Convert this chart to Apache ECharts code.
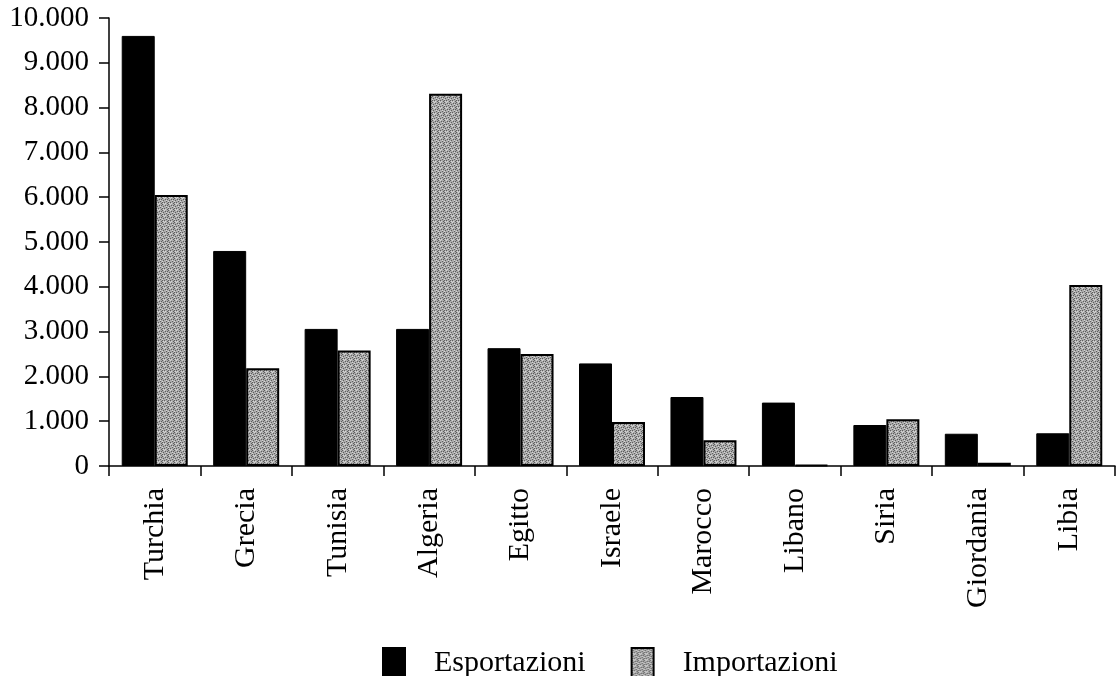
<!DOCTYPE html>
<html>
<head>
<meta charset="utf-8">
<script src="https://cdn.jsdelivr.net/npm/echarts@6/dist/echarts.min.js"></script>
<style>html,body{margin:0;padding:0;background:#fff;}#chart{width:1116px;height:676px;}</style>
</head>
<body>
<div id="chart"></div>
<script>
const categories = ['Turchia','Grecia','Tunisia','Algeria','Egitto','Israele','Marocco','Libano','Siria','Giordania','Libia'];
const esportazioni = [9600, 4800, 3060, 3060, 2630, 2290, 1540, 1415, 915, 720, 730];
const importazioni = [6050, 2180, 2580, 8310, 2500, 980, 575, 20, 1045, 75, 4040];
const seriesNames = ['Esportazioni', 'Importazioni'];

// deterministic stipple texture for the grey bars
const pat = document.createElement('canvas');
pat.width = 6; pat.height = 6;
const pctx = pat.getContext('2d');
pctx.fillStyle = '#ababab';
pctx.fillRect(0, 0, 6, 6);
pctx.fillStyle = '#5e5e5e';
[[0,0],[3,1],[1,2],[4,3],[2,4],[5,5],[0,4],[5,1]].forEach(p => pctx.fillRect(p[0], p[1], 1, 1));
pctx.fillStyle = '#d6d6d6';
[[2,0],[4,2],[0,3],[3,5],[1,5]].forEach(p => pctx.fillRect(p[0], p[1], 1, 1));

const fmt = v => String(v).replace(/\B(?=(\d{3})+(?!\d))/g, '.');
const font = '"Liberation Serif", "DejaVu Serif", serif';

const chart = echarts.init(document.getElementById('chart'));
chart.setOption({
  animation: false,
  textStyle: { fontFamily: font, color: '#000' },
  grid: { left: 109, right: 1, top: 18, bottom: 210, containLabel: false },
  legend: {
    left: 377, top: 642,
    itemWidth: 22, itemHeight: 30, itemGap: 45,
    textStyle: { fontFamily: font, fontSize: 30, color: '#000', padding: [0, 0, 0, 24] },
    data: [
      { name: seriesNames[0], icon: 'rect' },
      { name: seriesNames[1], icon: 'rect' }
    ]
  },
  xAxis: {
    type: 'category',
    data: categories,
    boundaryGap: true,
    axisLine: { lineStyle: { color: '#000', width: 1.5 } },
    axisTick: { show: true, length: 10, lineStyle: { color: '#000', width: 1.5 } },
    axisLabel: { rotate: 90, margin: 22, fontSize: 30, color: '#000', fontFamily: font }
  },
  yAxis: {
    type: 'value',
    min: 0, max: 10000, interval: 1000,
    splitLine: { show: false },
    axisLine: { show: true, lineStyle: { color: '#000', width: 1.5 } },
    axisTick: { show: true, length: 10, lineStyle: { color: '#000', width: 1.5 } },
    axisLabel: { margin: 20, fontSize: 29, color: '#000', fontFamily: font, formatter: fmt }
  },
  series: [
    {
      name: seriesNames[0], type: 'bar', data: esportazioni,
      barWidth: 33, barGap: '0%',
      itemStyle: { color: '#000', borderColor: '#000', borderWidth: 1 }
    },
    {
      name: seriesNames[1], type: 'bar', data: importazioni,
      barWidth: 33, barGap: '0%',
      itemStyle: { color: { image: pat, repeat: 'repeat' }, borderColor: '#000', borderWidth: 2 }
    }
  ]
});
</script>
</body>
</html>
